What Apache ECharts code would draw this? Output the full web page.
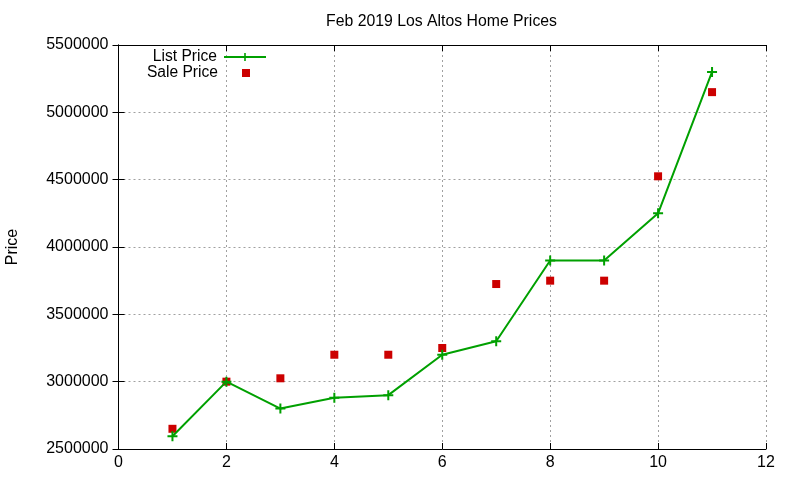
<!DOCTYPE html>
<html>
<head>
<meta charset="utf-8">
<script src="https://cdn.jsdelivr.net/npm/echarts@6/dist/echarts.min.js"></script>
<style>html,body{margin:0;padding:0;background:#fff}#c{width:800px;height:480px}</style>
</head>
<body>
<div id="c"></div>
<script>
var months = [1, 2, 3, 4, 5, 6, 7, 8, 9, 10, 11];
var listPrice = [2595000, 3000000, 2800000, 2880000, 2900000, 3200000, 3300000, 3900000, 3900000, 4250000, 5300000];
var salePrice = [2650000, 3000000, 3025000, 3200000, 3200000, 3250000, 3725000, 3750000, 3750000, 4525000, 5150000];
var titleText = 'Feb 2019 Los Altos Home Prices';
var seriesNames = ['List Price', 'Sale Price'];
var yName = 'Price';

var font = 'Liberation Sans, Arial, sans-serif';
var plus = 'path://M4,0H6V4H10V6H6V10H4V6H0V4H4Z';
// legend icon: centred 8x8 square inside a 42x8 box (tiny corner dots fix the box)
var legendSquare = 'path://M0,0H0.001V0.001H0Z M17,0H25V8H17Z M41.999,7.999H42V8H41.999Z';
function pairs(xs, ys) { return xs.map(function (x, i) { return [x, ys[i]]; }); }

var gridLine = { show: true, lineStyle: { color: '#a0a0a0', type: [2, 3], width: 1 } };
var axLine = { show: true, lineStyle: { color: '#000', width: 1 } };
var tick = { show: true, inside: true, length: 6, lineStyle: { color: '#000' } };

var chart = echarts.init(document.getElementById('c'), null, { renderer: 'canvas' });
chart.setOption({
  animation: false,
  backgroundColor: '#fff',
  title: {
    text: titleText, left: 441.5, top: 14, textAlign: 'center', padding: 0,
    textStyle: { fontFamily: font, fontSize: 15.8, fontWeight: 'normal', color: '#000' }
  },
  legend: [
    {
      data: [seriesNames[0]], right: 533, top: 49, padding: 0, align: 'right',
      itemWidth: 42, itemHeight: 10,
      textStyle: { fontFamily: font, fontSize: 15.6, color: '#000', padding: [0, 2, 0, 0] }
    },
    {
      data: [{ name: seriesNames[1], icon: legendSquare }], right: 533, top: 65, padding: 0, align: 'right',
      itemWidth: 42, itemHeight: 8,
      textStyle: { fontFamily: font, fontSize: 15.6, color: '#000', padding: [0, 2, 0, 0] }
    }
  ],
  grid: { left: 118.5, right: 34, top: 45, bottom: 31, containLabel: false, outerBoundsMode: 'none' },
  xAxis: [
    {
      type: 'value', min: 0, max: 12, interval: 2, position: 'bottom',
      axisLine: axLine, axisTick: tick, splitLine: gridLine,
      axisLabel: { fontFamily: font, fontSize: 16, color: '#000', margin: 6 }
    },
    {
      type: 'value', min: 0, max: 12, interval: 2, position: 'top',
      axisLine: axLine, axisTick: tick, splitLine: { show: false }, axisLabel: { show: false }
    }
  ],
  yAxis: [
    {
      type: 'value', min: 2500000, max: 5500000, interval: 500000, position: 'left',
      name: yName, nameLocation: 'middle', nameGap: 98, nameRotate: 90,
      nameTextStyle: { fontFamily: font, fontSize: 16, color: '#000' },
      axisLine: axLine, axisTick: tick, splitLine: gridLine,
      axisLabel: { fontFamily: font, fontSize: 16, color: '#000', margin: 10,
        formatter: function (v) { return String(v); } }
    },
    {
      type: 'value', min: 2500000, max: 5500000, interval: 500000, position: 'right',
      axisLine: axLine, axisTick: tick, splitLine: { show: false }, axisLabel: { show: false }
    }
  ],
  series: [
    {
      name: seriesNames[0], type: 'line', xAxisIndex: 0, yAxisIndex: 0,
      data: pairs(months, listPrice),
      symbol: plus, symbolSize: 10, showAllSymbol: true,
      lineStyle: { color: '#00a000', width: 2 },
      itemStyle: { color: '#00a000' }
    },
    {
      name: seriesNames[1], type: 'scatter', xAxisIndex: 0, yAxisIndex: 0,
      data: pairs(months, salePrice),
      symbol: 'rect', symbolSize: 8,
      itemStyle: { color: '#cc0000', opacity: 1 }
    }
  ]
});
</script>
</body>
</html>
